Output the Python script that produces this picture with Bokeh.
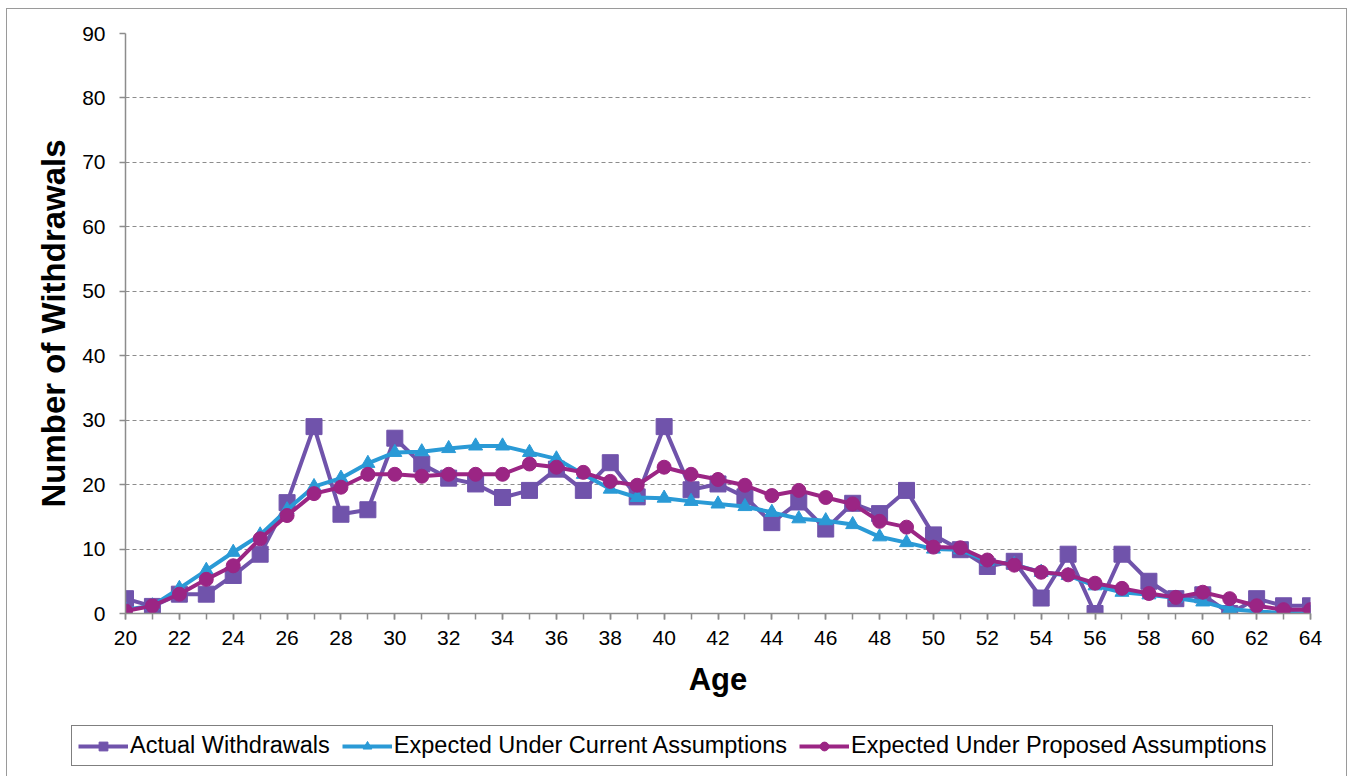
from bokeh.plotting import figure
from bokeh.models import FixedTicker, Legend, LegendItem
from bokeh.embed import file_html
from bokeh.resources import INLINE

ages = list(range(20, 65))
actual = [2.3, 1.1, 3.0, 3.0, 5.9, 9.2, 17.2, 29.0, 15.4, 16.1, 27.2, 23.2, 21.0, 20.1, 18.0,
          19.1, 22.4, 19.1, 23.4, 18.1, 29.0, 19.2, 20.1, 18.1, 14.1, 17.3, 13.1, 17.1, 15.5, 19.1,
          12.2, 9.9, 7.3, 8.1, 2.4, 9.2, 0.0, 9.2, 5.0, 2.3, 2.9, 0.0, 2.3, 1.2, 1.2]
current = [0.6, 1.2, 3.9, 6.7, 9.5, 12.2, 16.1, 19.7, 21.0, 23.3, 25.0, 25.1, 25.6, 26.0, 26.0,
           25.0, 24.0, 21.6, 19.3, 18.0, 17.9, 17.4, 17.0, 16.6, 15.7, 14.7, 14.4, 13.8, 11.9, 11.0,
           10.0, 9.9, 8.1, 7.6, 6.4, 5.9, 4.3, 3.3, 2.9, 2.4, 1.8, 0.7, 0.3, 0.1, 0.0]
proposed = [0.4, 1.2, 3.0, 5.3, 7.4, 11.6, 15.2, 18.6, 19.6, 21.6, 21.6, 21.3, 21.6, 21.6, 21.6,
            23.2, 22.7, 21.9, 20.5, 19.9, 22.7, 21.6, 20.8, 19.9, 18.3, 19.1, 18.0, 17.0, 14.3, 13.4,
            10.3, 10.2, 8.3, 7.5, 6.4, 6.0, 4.7, 3.9, 3.1, 2.5, 3.3, 2.3, 1.2, 0.6, 0.6]
x_ticks = list(range(20, 65, 2))
y_ticks = list(range(0, 91, 10))
labels = ["Actual Withdrawals", "Expected Under Current Assumptions", "Expected Under Proposed Assumptions"]

c_act = "#7053AB"
c_cur = "#2A9AD6"
c_pro = "#9B2584"
font = "Liberation Sans"
edge = "1.5px solid #9a9a9a"

p = figure(width=1341, height=712, output_backend="svg", toolbar_location=None,
           x_range=(20, 64), y_range=(0, 90),
           min_border_left=118, min_border_right=38, min_border_top=24, min_border_bottom=108)
p.styles = {"border-top": edge, "border-left": edge, "border-right": edge, "box-sizing": "border-box",
            "margin-left": "6px", "margin-top": "8px"}
p.outline_line_color = None
p.background_fill_color = "white"
p.border_fill_color = "white"

p.xaxis.ticker = FixedTicker(ticks=x_ticks, minor_ticks=ages)
p.yaxis.ticker = FixedTicker(ticks=y_ticks)
for ax in (p.xaxis[0], p.yaxis[0]):
    ax.axis_line_color = "#8c8c8c"
    ax.axis_line_width = 1.5
    ax.major_tick_line_color = "#8c8c8c"
    ax.major_tick_line_width = 1.5
    ax.major_tick_in = 0
    ax.major_tick_out = 6
    ax.major_label_text_font = font
    ax.major_label_text_font_size = "21px"
    ax.major_label_text_color = "black"
    ax.axis_label_text_font = font
    ax.axis_label_text_font_style = "bold"
    ax.axis_label_text_color = "black"
p.xaxis.axis_label_text_font_size = "31px"
p.yaxis.axis_label_text_font_size = "33px"
p.xaxis.minor_tick_line_color = "#8c8c8c"
p.xaxis.minor_tick_line_width = 1.5
p.xaxis.minor_tick_in = 0
p.xaxis.minor_tick_out = 6
p.yaxis.minor_tick_line_color = None
p.xaxis.axis_label = "Age"
p.yaxis.axis_label = "Number of Withdrawals"
p.xaxis.major_label_standoff = 11
p.yaxis.major_label_standoff = 14
p.xaxis.axis_label_standoff = 14
p.yaxis.axis_label_standoff = 7

p.xgrid.grid_line_color = None
p.ygrid.grid_line_color = "#8c8c8c"
p.ygrid.grid_line_dash = "4 3"
p.ygrid.grid_line_width = 1

series = [(actual, c_act, "square", 16), (current, c_cur, "triangle", 14), (proposed, c_pro, "circle", 14)]
for vals, col, mk, sz in series:
    p.line(ages, vals, line_color=col, line_width=4)
    p.scatter(ages, vals, marker=mk, size=sz, fill_color=col, line_color=col)

# legend strip below the chart (same series, drawn outside its view so only the legend shows)
lf = figure(width=1341, height=56, output_backend="svg", toolbar_location=None,
            x_range=(1000, 1001), y_range=(1000, 1001), min_border=0)
lf.styles = {"border-left": edge, "border-right": edge, "box-sizing": "border-box",
             "margin-left": "6px"}
lf.axis.visible = False
lf.grid.visible = False
lf.outline_line_color = None
lf.background_fill_color = "white"
lf.border_fill_color = "white"
items = []
for (vals, col, mk, sz), lab in zip(series, labels):
    rl = lf.line(ages, vals, line_color=col, line_width=4)
    rm = lf.scatter(ages, vals, marker=mk, size=sz, fill_color=col, line_color=col)
    items.append(LegendItem(label=lab, renderers=[rl, rm]))
legend = Legend(items=items, orientation="horizontal", location=(64, 10),
                label_text_font=font, label_text_font_size="23.5px", label_text_color="black",
                border_line_color="black", border_line_width=1.5,
                glyph_width=50, glyph_height=22, spacing=12, padding=6, margin=0,
                label_standoff=2, background_fill_color="white", background_fill_alpha=1)
lf.add_layout(legend, "center")

open("out.html", "w").write(file_html([p, lf], INLINE))
